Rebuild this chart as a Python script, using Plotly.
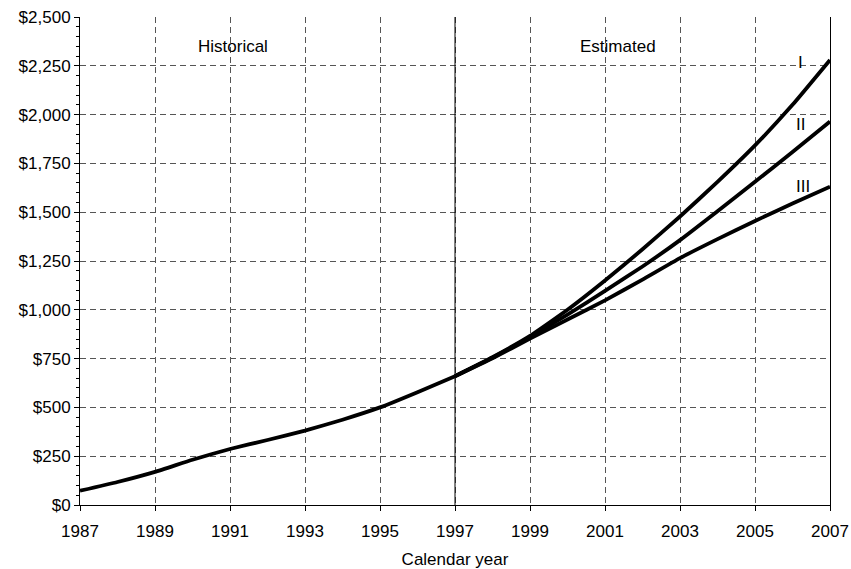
import plotly.graph_objects as go

hist_years = [1987, 1988, 1989, 1990, 1991, 1992, 1993, 1994, 1995, 1996, 1997]
hist_values = [73, 118, 170, 232, 287, 333, 381, 437, 500, 578, 660]

proj_years = [1997, 1998, 1999, 2000, 2001, 2002, 2003, 2004, 2005, 2006, 2007]
proj_I = [660, 757, 866, 1000, 1150, 1310, 1478, 1655, 1842, 2050, 2280]
proj_II = [660, 755, 860, 975, 1097, 1222, 1357, 1505, 1656, 1808, 1965]
proj_III = [660, 752, 852, 950, 1048, 1155, 1265, 1362, 1455, 1545, 1631]

series_labels = ["I", "II", "III"]
x_ticks = [1987, 1989, 1991, 1993, 1995, 1997, 1999, 2001, 2003, 2005, 2007]
y_ticks = [0, 250, 500, 750, 1000, 1250, 1500, 1750, 2000, 2250, 2500]
y_ticktext = ["$" + format(v, ",") for v in y_ticks]

FONT = "Liberation Sans, Arial, sans-serif"
FS = 17

fig = go.Figure()
line_style = dict(color="black", width=3.8, shape="spline", smoothing=0.4)
fig.add_trace(go.Scatter(x=hist_years, y=hist_values, mode="lines", line=line_style, showlegend=False))
for vals in [proj_I, proj_II, proj_III]:
    fig.add_trace(go.Scatter(x=proj_years, y=vals, mode="lines", line=line_style, showlegend=False))

# divider between historical and estimated
fig.add_shape(type="line", x0=1997, x1=1997, y0=0, y1=2500, xref="x", yref="y",
              line=dict(color="black", width=1))

# series labels near right end
label_y = [2266, 1947, 1631]
label_x = [2006.2, 2006.2, 2006.27]
for t, lx, ly in zip(series_labels, label_x, label_y):
    fig.add_annotation(x=lx, y=ly, text=t, showarrow=False, xref="x", yref="y",
                       font=dict(family=FONT, size=FS, color="black"), xanchor="center", yanchor="middle")

fig.add_annotation(x=1991.09, y=2351, text="Historical", showarrow=False,
                   font=dict(family=FONT, size=FS, color="black"))
fig.add_annotation(x=2001.35, y=2351, text="Estimated", showarrow=False,
                   font=dict(family=FONT, size=FS, color="black"))

fig.update_layout(
    width=851, height=569,
    margin=dict(l=80, r=21, t=17, b=64),
    plot_bgcolor="white", paper_bgcolor="white",
    font=dict(family=FONT, size=FS, color="black"),
)
fig.update_xaxes(
    range=[1987, 2007], tickvals=x_ticks, ticktext=[str(v) for v in x_ticks],
    showline=True, linecolor="black", linewidth=1, mirror=False,
    ticks="outside", ticklen=5, tickcolor="black", ticklabelstandoff=6,
    showgrid=True, gridcolor="#555555", gridwidth=1, griddash="6px,4px",
    zeroline=False, automargin=False,
    title=dict(text="Calendar year", font=dict(size=FS), standoff=14),
    tickfont=dict(size=FS),
)
fig.update_yaxes(
    range=[0, 2500], tickvals=y_ticks, ticktext=y_ticktext,
    showline=True, linecolor="black", linewidth=1, mirror=True,
    ticks="outside", ticklen=5, tickcolor="black",
    minor=dict(dtick=50, ticks="outside", ticklen=3, tickcolor="black", showgrid=False),
    showgrid=True, gridcolor="#555555", gridwidth=1, griddash="6px,4px",
    zeroline=False, automargin=False,
    tickfont=dict(size=FS),
)

fig.write_html("out.html", config={"displayModeBar": False},
               post_script="document.body.style.margin='0';document.body.style.overflow='hidden';")
